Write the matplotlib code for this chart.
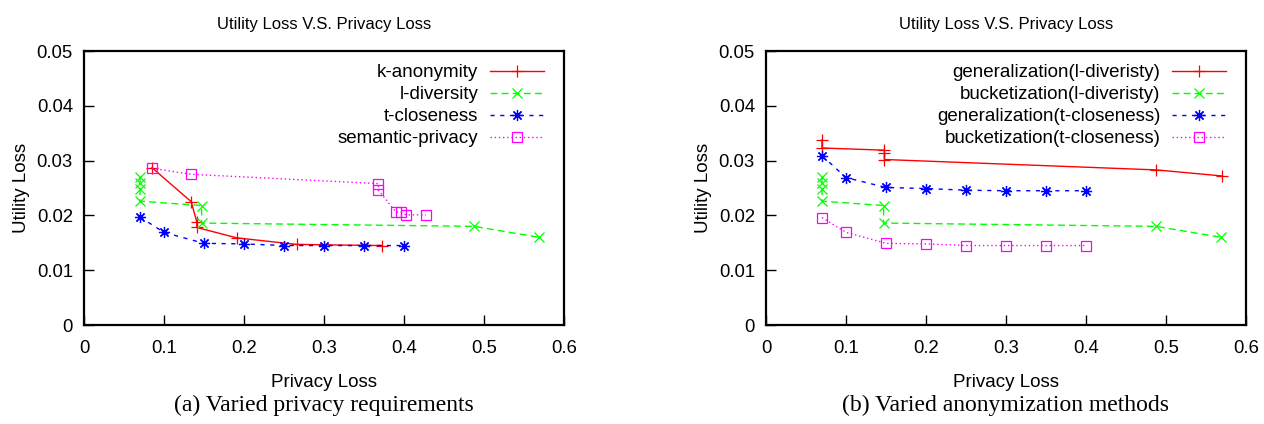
import numpy as np
import matplotlib
matplotlib.use("Agg")
import matplotlib.pyplot as plt

# datos (privacy loss, utility loss)
k_anon_x = [0.085, 0.134, 0.141, 0.141, 0.191, 0.266, 0.372]
k_anon_y = [0.0287, 0.0225, 0.0188, 0.0178, 0.0159, 0.0147, 0.0145]

l_div_x = [0.07, 0.07, 0.07, 0.07, 0.147, 0.147, 0.4875, 0.569]
l_div_y = [0.0270, 0.0259, 0.0249, 0.0226, 0.0218, 0.0186, 0.0180, 0.0160]

t_clo_x = [0.07, 0.1, 0.15, 0.2, 0.25, 0.3, 0.35, 0.4]
t_clo_y = [0.0197, 0.0169, 0.0149, 0.0148, 0.0145, 0.0145, 0.0145, 0.0145]

sem_x = [0.085, 0.134, 0.368, 0.368, 0.39, 0.396, 0.4025, 0.4275]
sem_y = [0.0286, 0.0275, 0.0258, 0.0246, 0.0206, 0.0206, 0.0201, 0.0201]

gen_l_x = [0.07, 0.07, 0.148, 0.148, 0.148, 0.488, 0.570]
gen_l_y = [0.0338, 0.0323, 0.0319, 0.0314, 0.0302, 0.0283, 0.0272]

buc_l_x = l_div_x
buc_l_y = l_div_y

gen_t_x = [0.07, 0.1, 0.15, 0.2, 0.25, 0.3, 0.35, 0.4]
gen_t_y = [0.0309, 0.0269, 0.0251, 0.0249, 0.0246, 0.0245, 0.0245, 0.0245]

buc_t_x = t_clo_x
buc_t_y = [0.0196, 0.0169, 0.0149, 0.0148, 0.0145, 0.0145, 0.0145, 0.0145]

xticks = [0, 0.1, 0.2, 0.3, 0.4, 0.5, 0.6]
yticks = [0, 0.01, 0.02, 0.03, 0.04, 0.05]

sans = "Liberation Sans"
serif = "Liberation Serif"
plt.rcParams['font.family'] = sans

star = (8, 2, 0)
styles = [
    dict(color='#ff0000', ls='-', marker='+', ms=8),
    dict(color='#00ff00', ls=(0, (5, 3)), marker='x', ms=7),
    dict(color='#0000ff', ls=(0, (3, 4)), marker=star, ms=8),
    dict(color='#ff00ff', ls=(0, (1, 2)), marker='s', ms=7, mfc='none'),
]

fig = plt.figure(figsize=(12.64, 4.24), dpi=100)
W, H = 1264, 424
ax1 = fig.add_axes([84 / W, 1 - 325 / H, 480 / W, 274 / H])
ax2 = fig.add_axes([766 / W, 1 - 325 / H, 480 / W, 274 / H])

series1 = [(k_anon_x, k_anon_y, 'k-anonymity'),
           (l_div_x, l_div_y, 'l-diversity'),
           (t_clo_x, t_clo_y, 't-closeness'),
           (sem_x, sem_y, 'semantic-privacy')]
series2 = [(gen_l_x, gen_l_y, 'generalization(l-diveristy)'),
           (buc_l_x, buc_l_y, 'bucketization(l-diveristy)'),
           (gen_t_x, gen_t_y, 'generalization(t-closeness)'),
           (buc_t_x, buc_t_y, 'bucketization(t-closeness)')]

for ax, series, cap in [(ax1, series1, '(a) Varied privacy requirements'),
                        (ax2, series2, '(b) Varied anonymization methods')]:
    for (x, y, lab), st in zip(series, styles):
        ax.plot(x, y, label=lab, lw=1.0, mew=0.9, clip_on=False, **st)
    ax.set_xlim(0, 0.6)
    ax.set_ylim(0, 0.05)
    ax.set_xticks(xticks)
    ax.set_xticklabels(['0' if t == 0 else f'{t:g}' for t in xticks])
    ax.set_yticks(yticks)
    ax.set_yticklabels(['0' if t == 0 else f'{t:.2f}' for t in yticks])
    ax.tick_params(direction='in', length=7, width=1, labelsize=13.3, pad=8)
    ax.tick_params(axis='x', pad=11)
    for s in ax.spines.values():
        s.set_linewidth(1.6)
    ax.set_xlabel('Privacy Loss', fontsize=13.5, labelpad=12)
    ax.set_ylabel('Utility Loss', fontsize=13.5, labelpad=5)
    ax.text(0.5, 1 + 27 / 274, 'Utility Loss V.S. Privacy Loss', transform=ax.transAxes,
            ha='center', va='center', fontsize=12)
    ax.text(0.5, -80 / 274, cap, transform=ax.transAxes, ha='center', va='center',
            fontsize=17, family=serif)
    ax.legend(loc='upper right', frameon=False, markerfirst=False, fontsize=13.5,
              handlelength=2.9, handletextpad=0.6, labelspacing=0.26,
              borderaxespad=0.0, borderpad=0.0, bbox_to_anchor=(1 - 20 / 480, 1 - 13 / 274))

fig.savefig('out.png', dpi=100)
